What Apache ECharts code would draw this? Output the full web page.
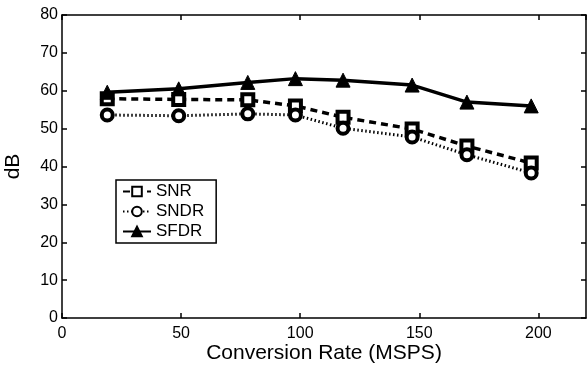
<!DOCTYPE html>
<html><head><meta charset="utf-8">
<script src="https://cdn.jsdelivr.net/npm/echarts@6/dist/echarts.min.js"></script>
<style>html,body{margin:0;padding:0;background:#fff}#c{width:587px;height:370px}</style>
</head><body><div id="c"></div>
<script>
const rates = [19, 49, 78, 98, 118, 147, 170, 197];
const snr   = [57.9, 57.7, 57.6, 56.0, 53.0, 49.9, 45.4, 40.9];
const sndr  = [53.6, 53.4, 53.9, 53.6, 50.1, 47.8, 43.1, 38.3];
const sfdr  = [59.6, 60.5, 62.2, 63.2, 62.8, 61.5, 57.0, 56.0];
const xTicks = [0, 50, 100, 150, 200];
const yTicks = [0, 10, 20, 30, 40, 50, 60, 70, 80];

const font = 'Liberation Sans, Arial, sans-serif';
const pairs = a => rates.map((x, i) => [x, a[i]]);
const tick = () => ({show: true, inside: true, length: 5, lineStyle: {color: '#000', width: 1.5}});
const axLine = () => ({show: true, onZero: false, lineStyle: {color: '#000', width: 1.5}});

const chart = echarts.init(document.getElementById('c'));
chart.setOption({
  animation: false,
  backgroundColor: '#fff',
  grid: {left: 62, right: 1, top: 15, bottom: 52, containLabel: false, outerBoundsMode: 'none'},
  legend: {
    left: 116, top: 180, orient: 'vertical',
    backgroundColor: '#fff', borderColor: '#000', borderWidth: 1.5, borderRadius: 0,
    padding: [3, 12, 3, 6], itemGap: 3, itemWidth: 28, itemHeight: 12,
    textStyle: {fontFamily: font, fontSize: 17, color: '#000'},
    data: ['SNR', 'SNDR', 'SFDR']
  },
  xAxis: [{
    type: 'value', min: 0, max: 220, interval: 50, position: 'bottom',
    name: 'Conversion Rate (MSPS)', nameLocation: 'middle', nameGap: 25, nameMoveOverlap: false,
    nameTextStyle: {fontFamily: font, fontSize: 21, color: '#000'},
    axisLine: axLine(), axisTick: tick(), splitLine: {show: false},
    axisLabel: {fontFamily: font, fontSize: 16, color: '#000', showMaxLabel: false, margin: 8,
      formatter: v => xTicks.includes(v) ? String(v) : ''}
  }, {
    type: 'value', min: 0, max: 220, interval: 50, position: 'top',
    axisLine: axLine(), axisTick: tick(), splitLine: {show: false}, axisLabel: {show: false}
  }],
  yAxis: [{
    type: 'value', min: 0, max: 80, interval: 10, position: 'left',
    name: 'dB', nameLocation: 'middle', nameGap: 38, nameMoveOverlap: false,
    nameTextStyle: {fontFamily: font, fontSize: 21, color: '#000'},
    axisLine: axLine(), axisTick: tick(), splitLine: {show: false},
    axisLabel: {fontFamily: font, fontSize: 16, color: '#000', margin: 4,
      formatter: v => yTicks.includes(v) ? String(v) : ''}
  }, {
    type: 'value', min: 0, max: 80, interval: 10, position: 'right',
    axisLine: axLine(), axisTick: tick(), splitLine: {show: false}, axisLabel: {show: false}
  }],
  series: [{
    name: 'SNR', type: 'line', data: pairs(snr),
    lineStyle: {color: '#000', width: 3.5, type: [7, 5]},
    symbol: 'rect', symbolSize: 11,
    itemStyle: {color: '#fff', borderColor: '#000', borderWidth: 4}
  }, {
    name: 'SNDR', type: 'line', data: pairs(sndr),
    lineStyle: {color: '#000', width: 3, type: [1.5, 2.5]},
    symbol: 'circle', symbolSize: 11,
    itemStyle: {color: '#fff', borderColor: '#000', borderWidth: 4}
  }, {
    name: 'SFDR', type: 'line', data: pairs(sfdr),
    lineStyle: {color: '#000', width: 3.5},
    symbol: 'triangle', symbolSize: 14,
    itemStyle: {color: '#000', borderColor: '#000', borderWidth: 1}
  }, {
    type: 'line', xAxisIndex: 1, yAxisIndex: 1, data: [], silent: true
  }]
});
</script></body></html>
